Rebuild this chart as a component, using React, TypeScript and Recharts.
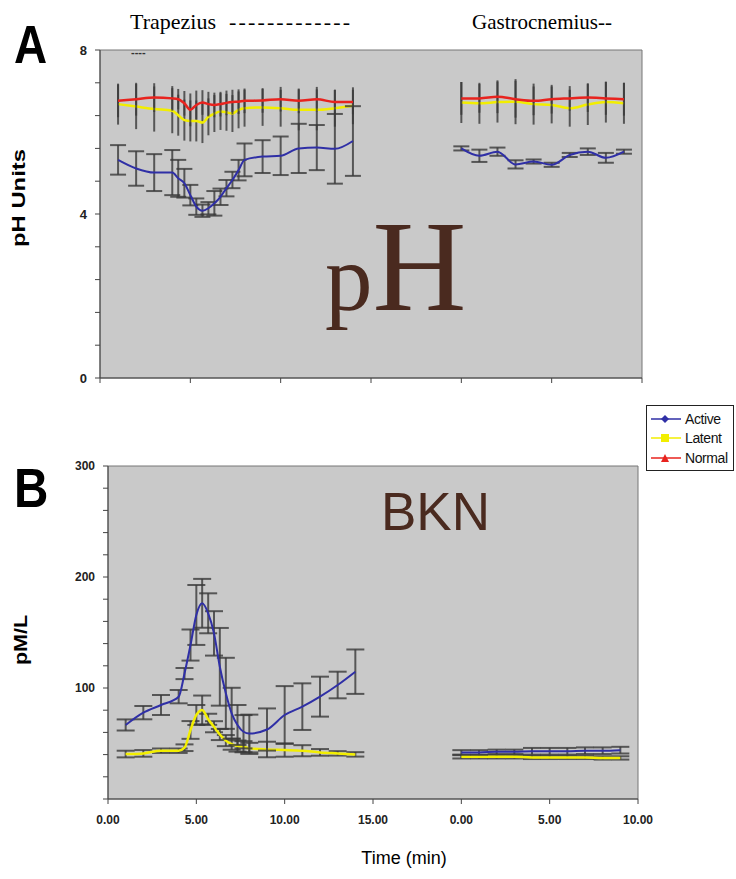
import React from "react";
import {
  LineChart,
  Line,
  XAxis,
  YAxis,
  ErrorBar,
  ReferenceArea,
} from "recharts";

// sample times (min); gastrocnemius block is drawn after a gap on the same axis
const trapTimes = [1, 2, 3, 4, 4.33, 4.67, 5, 5.33, 5.67, 6, 6.33, 6.67, 7, 7.33, 7.67, 8, 9, 10, 11, 12, 13, 14];
const gasTimes = [0, 1, 2, 3, 4, 5, 6, 7, 8, 9];
const GAS_OFFSET = 20;
const xTicks = [0, 5, 10, 15, 20, 25, 30];

// panel A - pH
const phActiveTrap = [5.32, 5.11, 5.01, 5.01, 4.87, 4.75, 4.46, 4.18, 4.08, 4.14, 4.26, 4.42, 4.63, 4.83, 5.07, 5.32, 5.4, 5.42, 5.6, 5.62, 5.59, 5.78];
const phActiveTrapErr = [0.36, 0.42, 0.45, 0.55, 0.45, 0.35, 0.25, 0.2, 0.15, 0.15, 0.3, 0.2, 0.2, 0.2, 0.25, 0.4, 0.4, 0.47, 0.6, 0.55, 0.85, 0.85];
const phLatentTrap = [6.68, 6.62, 6.56, 6.52, 6.41, 6.29, 6.27, 6.27, 6.23, 6.37, 6.45, 6.5, 6.48, 6.45, 6.54, 6.58, 6.6, 6.58, 6.54, 6.54, 6.58, 6.64];
const phLatentTrapErr = [0.5, 0.55, 0.55, 0.55, 0.5, 0.5, 0.5, 0.5, 0.5, 0.45, 0.45, 0.45, 0.45, 0.45, 0.45, 0.45, 0.45, 0.45, 0.5, 0.5, 0.45, 0.45];
const phNormalTrap = [6.76, 6.8, 6.84, 6.82, 6.8, 6.7, 6.54, 6.66, 6.72, 6.68, 6.66, 6.68, 6.71, 6.73, 6.74, 6.76, 6.77, 6.8, 6.76, 6.8, 6.73, 6.73];
const phNormalTrapErr = [0.4, 0.4, 0.35, 0.3, 0.25, 0.3, 0.4, 0.35, 0.3, 0.3, 0.3, 0.3, 0.3, 0.3, 0.3, 0.3, 0.3, 0.3, 0.3, 0.3, 0.3, 0.3];
const phActiveGas = [5.6, 5.42, 5.52, 5.21, 5.28, 5.2, 5.44, 5.52, 5.37, 5.52];
const phActiveGasErr = [0.05, 0.15, 0.1, 0.1, 0.05, 0.05, 0.05, 0.08, 0.12, 0.05];
const phLatentGas = [6.72, 6.7, 6.73, 6.74, 6.68, 6.66, 6.58, 6.67, 6.73, 6.7];
const phLatentGasErr = [0.5, 0.5, 0.5, 0.55, 0.5, 0.45, 0.45, 0.5, 0.5, 0.5];
const phNormalGas = [6.82, 6.82, 6.86, 6.8, 6.76, 6.8, 6.82, 6.84, 6.82, 6.8];
const phNormalGasErr = [0.4, 0.35, 0.4, 0.45, 0.35, 0.35, 0.3, 0.35, 0.4, 0.4];
const phTicks = [0, 0.8, 1.6, 2.4, 3.2, 4, 4.8, 5.6, 6.4, 7.2, 8];
const phLabels = [0, 4, 8];

// panel B - BKN
const bknActiveTrap = [66.7, 77.8, 84.7, 92.2, 113, 138.7, 165.8, 176.3, 167.3, 149.2, 119.1, 95.2, 77.2, 66.7, 60.6, 59, 62.6, 75.7, 83.2, 92.2, 102.7, 114.7];
const bknActiveTrapErr = [5, 6, 9, 6, 5, 14, 27, 22, 18, 20, 35, 32, 23, 18, 15, 17, 19, 26, 21, 18, 12, 20];
const bknLatentTrap = [40.5, 41.1, 43.5, 43.5, 46.2, 62.2, 75.7, 80.2, 71.8, 65.1, 58.1, 52.6, 49.4, 47.7, 47.1, 45.6, 44.6, 44.1, 43.5, 42, 41.1, 40.2];
const bknLatentTrapErr = [3, 3, 2, 2, 3, 8, 9, 13, 5, 5, 5, 5, 5, 5, 5, 5, 7, 6, 5, 3, 2, 2];
const bknActiveGas = [42, 42, 42.5, 42.5, 43, 43, 43, 43.5, 43.5, 44];
const bknActiveGasErr = [2, 2, 2, 2, 3, 3, 3, 3, 3, 3];
const bknLatentGas = [38, 38, 38, 38, 37.5, 37.5, 37.5, 37.5, 37, 37];
const bknLatentGasErr = [1.5, 1.5, 1.5, 1.5, 1.5, 1.5, 1.5, 1.5, 1.5, 1.5];
const bknTicks = [0, 20, 40, 60, 80, 100, 120, 140, 160, 180, 200, 220, 240, 260, 280, 300];
const bknLabels = [100, 200, 300];

const BLUE = "#2f2fa6";
const YELLOW = "#f2ee00";
const RED = "#e8231e";
const BG = "#c9c9c9";
const BAR = "#3a3a3a";
const BROWN = "#4a2a1f";
const SANS = "'Liberation Sans', Arial, sans-serif";
const SERIF = "'Liberation Serif', 'Times New Roman', serif";

const rows = (times: number[], vals: number[], errs: number[], offset = 0) =>
  times.map((t, i) => ({ t: t + offset, v: vals[i], e: errs[i] }));

const tickStyle = { fontSize: 12, fontWeight: 700, fill: "#222", fontFamily: SANS };
const xFmt = (v: number) => (v >= GAS_OFFSET ? v - GAS_OFFSET : v).toFixed(2);

function series(
  key: string,
  data: { t: number; v: number; e: number }[],
  color: string,
  cap: number,
  width = 2
) {
  return (
    <Line
      key={key}
      data={data}
      dataKey="v"
      type="monotone"
      stroke={color}
      strokeWidth={width}
      dot={false}
      activeDot={false}
      isAnimationActive={false}
    >
      <ErrorBar dataKey="e" direction="y" width={cap} stroke={BAR} strokeWidth={2} strokeOpacity={0.8} />
    </Line>
  );
}

function PanelA() {
  return (
    <LineChart width={736} height={420} margin={{ top: 50, right: 94, bottom: 12, left: 70 }}>
      <ReferenceArea x1={0} x2={30} y1={0} y2={8} fill={BG} fillOpacity={1} stroke="#777" />
      <XAxis
        type="number"
        dataKey="t"
        domain={[0, 30]}
        ticks={xTicks}
        tickFormatter={() => ""}
        height={30}
        tickSize={5}
        stroke="#444"
        allowDuplicatedCategory={false}
      />
      <YAxis
        type="number"
        domain={[0, 8]}
        ticks={phTicks}
        tickFormatter={(v: number) => (phLabels.includes(v) ? String(v) : "")}
        width={30}
        tickSize={5}
        tickMargin={8}
        stroke="#444"
        tick={{ ...tickStyle, fontSize: 13 }}
      />
      {series("aYt", rows(trapTimes, phLatentTrap, phLatentTrapErr), YELLOW, 0, 2.5)}
      {series("aYg", rows(gasTimes, phLatentGas, phLatentGasErr, GAS_OFFSET), YELLOW, 0, 2.5)}
      {series("aRt", rows(trapTimes, phNormalTrap, phNormalTrapErr), RED, 0, 2.5)}
      {series("aRg", rows(gasTimes, phNormalGas, phNormalGasErr, GAS_OFFSET), RED, 0, 2.5)}
      {series("aBt", rows(trapTimes, phActiveTrap, phActiveTrapErr), BLUE, 8, 2)}
      {series("aBg", rows(gasTimes, phActiveGas, phActiveGasErr, GAS_OFFSET), BLUE, 8, 2)}
    </LineChart>
  );
}

function PanelB() {
  return (
    <LineChart width={736} height={459} margin={{ top: 46, right: 98, bottom: 50, left: 70 }}>
      <ReferenceArea x1={0} x2={30} y1={0} y2={300} fill={BG} fillOpacity={1} stroke="#777" />
      <XAxis
        type="number"
        dataKey="t"
        domain={[0, 30]}
        ticks={xTicks}
        tickFormatter={xFmt}
        height={30}
        tickSize={5}
        tickMargin={11}
        stroke="#444"
        tick={tickStyle}
        allowDuplicatedCategory={false}
      />
      <YAxis
        type="number"
        domain={[0, 300]}
        ticks={bknTicks}
        tickFormatter={(v: number) => (bknLabels.includes(v) ? String(v) : "")}
        width={38}
        tickSize={5}
        tickMargin={8}
        stroke="#444"
        tick={tickStyle}
      />
      {series("bYt", rows(trapTimes, bknLatentTrap, bknLatentTrapErr), YELLOW, 9, 2.5)}
      {series("bYg", rows(gasTimes, bknLatentGas, bknLatentGasErr, GAS_OFFSET), YELLOW, 9, 2.5)}
      {series("bBt", rows(trapTimes, bknActiveTrap, bknActiveTrapErr), BLUE, 9, 2)}
      {series("bBg", rows(gasTimes, bknActiveGas, bknActiveGasErr, GAS_OFFSET), BLUE, 9, 2)}
    </LineChart>
  );
}

const legendItems = [
  { name: "Active", color: BLUE, marker: "diamond" },
  { name: "Latent", color: YELLOW, marker: "square" },
  { name: "Normal", color: RED, marker: "triangle" },
];

function Marker({ kind, color }: { kind: string; color: string }) {
  if (kind === "diamond") return <polygon points="15,1 19,5 15,9 11,5" fill={color} />;
  if (kind === "square") return <rect x={11} y={1} width={8} height={8} fill={color} />;
  return <polygon points="15,1 19,9 11,9" fill={color} />;
}

function LegendBox() {
  return (
    <div
      style={{
        position: "absolute",
        left: 646,
        top: 405,
        width: 88,
        height: 66,
        border: "1.5px solid #222",
        background: "#fff",
        fontFamily: SANS,
        fontSize: 14,
        color: "#111",
        paddingTop: 3,
        boxSizing: "border-box",
      }}
    >
      {legendItems.map((it) => (
        <div key={it.name} style={{ display: "flex", alignItems: "center", height: 19.5 }}>
          <svg width={34} height={10} style={{ marginLeft: 3 }}>
            <line x1={1} x2={31} y1={5} y2={5} stroke={it.color} strokeWidth={1.5} />
            <Marker kind={it.marker} color={it.color} />
          </svg>
          <span style={{ marginLeft: 1, letterSpacing: -0.4 }}>{it.name}</span>
        </div>
      ))}
    </div>
  );
}

export default function App() {
  return (
    <div style={{ position: "absolute", left: 0, top: 0, width: 736, height: 879, background: "#fff", overflow: "hidden" }}>
      <div style={{ position: "absolute", left: 0, top: 0 }}>
        <PanelA />
      </div>
      <div style={{ position: "absolute", left: 0, top: 420 }}>
        <PanelB />
      </div>
      <svg width={736} height={879} style={{ position: "absolute", left: 0, top: 0, pointerEvents: "none" }}>
        <text x={14} y={63} fontFamily={SANS} fontWeight={700} fontSize={54} transform="translate(14 0) scale(0.85 1) translate(-14 0)">A</text>
        <text x={14} y={507} fontFamily={SANS} fontWeight={700} fontSize={56} transform="translate(14 0) scale(0.85 1) translate(-14 0)">B</text>
        <text x={130} y={29} fontFamily={SERIF} fontSize={22}>Trapezius</text>
        <text x={229} y={29} fontFamily={SERIF} fontSize={22} textLength={121} lengthAdjust="spacing">-------------</text>
        <text x={472} y={29} fontFamily={SERIF} fontSize={21}>Gastrocnemius--</text>
        <text x={131} y={56} fontFamily={SANS} fontWeight={700} fontSize={11} fill="#333">----</text>
        <text x={0} y={0} transform="translate(25 198) rotate(-90)" textAnchor="middle" fontFamily={SANS} fontWeight={700} fontSize={18} textLength={98} lengthAdjust="spacingAndGlyphs">pH Units</text>
        <text x={0} y={0} transform="translate(27 640) rotate(-90)" textAnchor="middle" fontFamily={SANS} fontWeight={700} fontSize={18} textLength={50} lengthAdjust="spacingAndGlyphs">pM/L</text>
        <text x={404} y={864} textAnchor="middle" fontFamily={SANS} fontSize={18}>Time (min)</text>
        <text x={325} y={310} fontFamily={SERIF} fill={BROWN}>
          <tspan fontSize={95}>p</tspan>
          <tspan fontSize={130}>H</tspan>
        </text>
        <text x={381} y={530} fontFamily={SANS} fontSize={53} fill={BROWN}>BKN</text>
      </svg>
      <LegendBox />
    </div>
  );
}
